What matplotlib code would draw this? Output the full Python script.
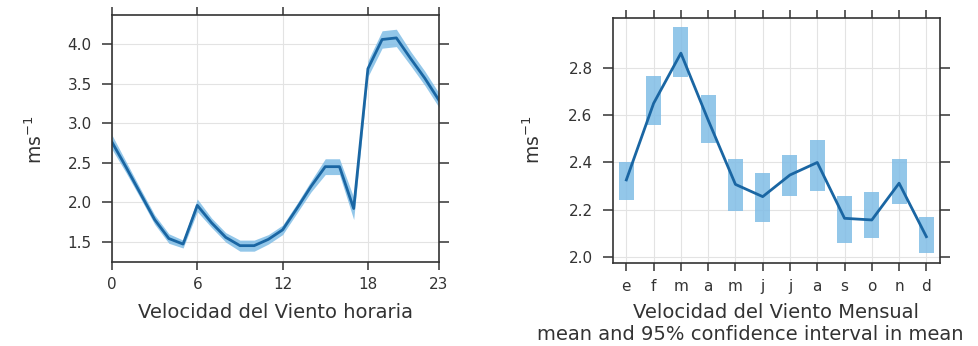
import matplotlib
matplotlib.use('Agg')
import matplotlib.pyplot as plt

plt.rcParams['font.family'] = ['DejaVu Sans']

# hourly wind speed (mean and half-width of 95% CI)
hours = list(range(24))
wind_hour = [2.76, 2.44, 2.11, 1.78, 1.54, 1.47, 1.96, 1.74, 1.555, 1.45, 1.45, 1.53,
             1.65, 1.92, 2.20, 2.45, 2.45, 1.92, 3.69, 4.06, 4.08, 3.82, 3.57, 3.29]
ci_hour = [0.09, 0.07, 0.06, 0.06, 0.06, 0.05, 0.08, 0.06, 0.06, 0.07, 0.07, 0.06,
           0.06, 0.06, 0.07, 0.10, 0.10, 0.14, 0.10, 0.11, 0.11, 0.09, 0.09, 0.09]
hour_ticks = [0, 6, 12, 18, 23]

# monthly wind speed
months = ['e', 'f', 'm', 'a', 'm', 'j', 'j', 'a', 's', 'o', 'n', 'd']
wind_month = [2.326, 2.651, 2.864, 2.58, 2.307, 2.255, 2.347, 2.40, 2.163, 2.156, 2.312, 2.085]
low_month = [2.241, 2.559, 2.764, 2.482, 2.195, 2.149, 2.258, 2.279, 2.057, 2.081, 2.224, 2.014]
up_month = [2.40, 2.767, 2.977, 2.687, 2.415, 2.357, 2.432, 2.496, 2.259, 2.276, 2.414, 2.17]

LINE = '#1a66a3'
BAND = '#80bde6'
TXT = '#333333'

fig = plt.figure(figsize=(9.79, 3.46), dpi=100)
W, H = 979, 346

def px_axes(x0, y0, x1, y1):
    return fig.add_axes([x0 / W, 1 - y1 / H, (x1 - x0) / W, (y1 - y0) / H])

def style(ax):
    for s in ax.spines.values():
        s.set_color('#333333')
        s.set_linewidth(1.2)
    ax.grid(True, color='#e3e3e3', linewidth=0.8)
    ax.set_axisbelow(True)
    ax.tick_params(axis='x', direction='out', length=6, width=1.1, pad=5,
                   top=True, bottom=True, labelsize=11, colors='#333333', labelcolor=TXT)
    ax.tick_params(axis='y', direction='out', length=7.5, width=1.1, pad=7,
                   left=True, right=True, labelsize=11, colors='#333333', labelcolor=TXT)

# left panel
ax1 = px_axes(112, 15, 439, 262)
lo = [m - c for m, c in zip(wind_hour, ci_hour)]
hi = [m + c for m, c in zip(wind_hour, ci_hour)]
ax1.fill_between(hours, lo, hi, color=BAND, alpha=0.85, linewidth=0)
ax1.plot(hours, wind_hour, color=LINE, linewidth=2)
ax1.set_xlim(0, 23)
ax1.set_ylim(1.243, 4.37)
ax1.set_xticks(hour_ticks)
ax1.set_yticks([1.5, 2.0, 2.5, 3.0, 3.5, 4.0])
ax1.set_yticklabels(['1.5', '2.0', '2.5', '3.0', '3.5', '4.0'])
style(ax1)

# right panel
ax2 = px_axes(612.7, 18.3, 940, 263.3)
x = list(range(1, 13))
heights = [u - l for u, l in zip(up_month, low_month)]
ax2.bar(x, heights, bottom=low_month, width=0.55, color=BAND, alpha=0.85, linewidth=0)
ax2.plot(x, wind_month, color=LINE, linewidth=2)
ax2.set_xlim(0.5, 12.5)
ax2.set_ylim(1.972, 3.012)
ax2.set_xticks(x)
ax2.set_xticklabels(months)
ax2.set_yticks([2.0, 2.2, 2.4, 2.6, 2.8])
ax2.set_yticklabels(['2.0', '2.2', '2.4', '2.6', '2.8'])
style(ax2)

def ftext(px, py, s, **kw):
    fig.text(px / W, 1 - py / H, s, ha='center', va='center', color=TXT, **kw)

ftext(35, 140, 'ms$^{-1}$', rotation=90, fontsize=13.5)
ftext(533, 140, 'ms$^{-1}$', rotation=90, fontsize=13.5)
ftext(275, 313, 'Velocidad del Viento horaria', fontsize=14)
ftext(776, 313, 'Velocidad del Viento Mensual', fontsize=14)
ftext(750, 335, 'mean and 95% confidence interval in mean', fontsize=14)

fig.savefig('out.png', dpi=100)
